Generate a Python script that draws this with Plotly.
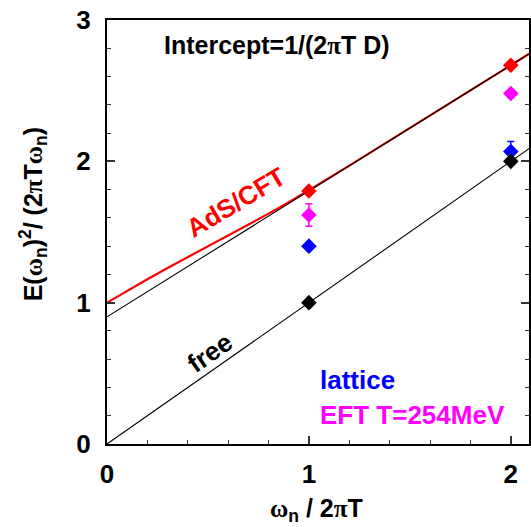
import plotly.graph_objects as go

# Matsubara frequency points (omega_n / 2 pi T)
omega_pts = [1, 2]

# E(omega_n)^2 / (2 pi T omega_n) for each data set
free_vals = [1.00, 2.00]
adscft_vals = [1.79, 2.68]
eft_vals = [1.62, 2.48]
eft_err = [0.08, 0.0]
lattice_vals = [1.40, 2.07]
lattice_err = [0.0, 0.07]

# AdS/CFT curve
adscft_curve_x = [0.0, 0.1, 0.2, 0.3, 0.4, 0.5, 0.6, 0.7, 0.8, 0.9, 1.0,
                  1.2, 1.4, 1.6, 1.8, 2.0, 2.1]
adscft_curve_y = [1.000, 1.084, 1.166, 1.245, 1.321, 1.397, 1.474, 1.551,
                  1.630, 1.711, 1.795, 1.970, 2.146, 2.324, 2.502, 2.680, 2.769]

# straight lines: (intercept, slope)
free_line = (0.0, 1.0)
asym_line = (0.90, 0.89)
line_x = [0.0, 2.1]

FONT = "Liberation Sans"
SERIF = "Liberation Serif"


def sym(ch):
    return f"<span style='font-family:{SERIF}'>{ch}</span>"


def straight(line):
    b, m = line
    return [b + m * x for x in line_x]


fig = go.Figure()

fig.add_trace(go.Scatter(x=adscft_curve_x, y=adscft_curve_y, mode="lines",
                         line=dict(color="#ff0000", width=2.2), showlegend=False))

for ln in (free_line, asym_line):
    fig.add_trace(go.Scatter(x=line_x, y=straight(ln), mode="lines",
                             line=dict(color="black", width=1.1),
                             showlegend=False, hoverinfo="skip"))

fig.add_trace(go.Scatter(x=omega_pts, y=adscft_vals, mode="markers",
                         marker=dict(symbol="diamond", size=12, color="#ff0000"),
                         showlegend=False))
fig.add_trace(go.Scatter(x=omega_pts, y=eft_vals, mode="markers",
                         marker=dict(symbol="diamond", size=12, color="#ff00ff"),
                         error_y=dict(type="data", array=eft_err, visible=True,
                                      color="#ff00ff", thickness=1.5, width=3.5),
                         showlegend=False))
fig.add_trace(go.Scatter(x=omega_pts, y=lattice_vals, mode="markers",
                         marker=dict(symbol="diamond", size=12, color="#0000ff"),
                         error_y=dict(type="data", array=lattice_err, visible=True,
                                      color="#0000ff", thickness=1.5, width=3.5),
                         showlegend=False))
fig.add_trace(go.Scatter(x=omega_pts, y=free_vals, mode="markers",
                         marker=dict(symbol="diamond", size=12, color="black"),
                         showlegend=False))

tickfont = dict(family=FONT, size=26, color="black", weight="bold")
axis_common = dict(showgrid=False, zeroline=False, showline=True,
                   linecolor="black", linewidth=2, ticks="inside", ticklen=8,
                   tickwidth=1.5, tickcolor="#333", dtick=1, tickfont=tickfont,
                   minor=dict(ticks="inside", ticklen=4, dtick=0.2,
                              tickwidth=1, tickcolor="#333"))

fig.update_xaxes(range=[0, 2.09], mirror=True, ticklabelstandoff=6,
                 **axis_common)
fig.update_yaxes(range=[0, 3], mirror="ticks", ticklabelstandoff=9,
                 **axis_common)


def note(text, x, y, color="black", size=26, angle=0, xanchor="center"):
    fig.add_annotation(text=text, x=x, y=y, xref="paper", yref="paper",
                       showarrow=False, textangle=angle, xanchor=xanchor,
                       yanchor="middle",
                       font=dict(family=FONT, size=size, color=color,
                                 weight="bold"))


L, T, W, H = 107, 20, 424, 424


def px(x):
    return (x - L) / W


def py(y):
    return (T + H - y) / H


note(f"Intercept=1/(2{sym('π')}T D)", px(162), py(45), size=25, xanchor="left")
note("AdS/CFT", px(237), py(202), color="#ff0000", size=26, angle=-31)
note("free", px(210), py(353), size=26, angle=-35)
note("lattice", px(319), py(380), color="#0000ff", size=26, xanchor="left")
note("EFT T=254MeV", px(319), py(415), color="#ff00ff", size=26, xanchor="left")
note(f"E({sym('ω')}<sub>n</sub>)<sup>2</sup>/ (2{sym('π')}T{sym('ω')}<sub>n</sub>)",
     px(33), py(214), size=25, angle=-90)
note(f"{sym('ω')}<sub>n</sub> / 2{sym('π')}T", px(317), py(510), size=25)

fig.update_layout(width=531, height=527, autosize=False,
                  margin=dict(l=L, r=0, t=T, b=527 - T - H),
                  plot_bgcolor="white", paper_bgcolor="white",
                  showlegend=False)

fig.write_html("out.html")
